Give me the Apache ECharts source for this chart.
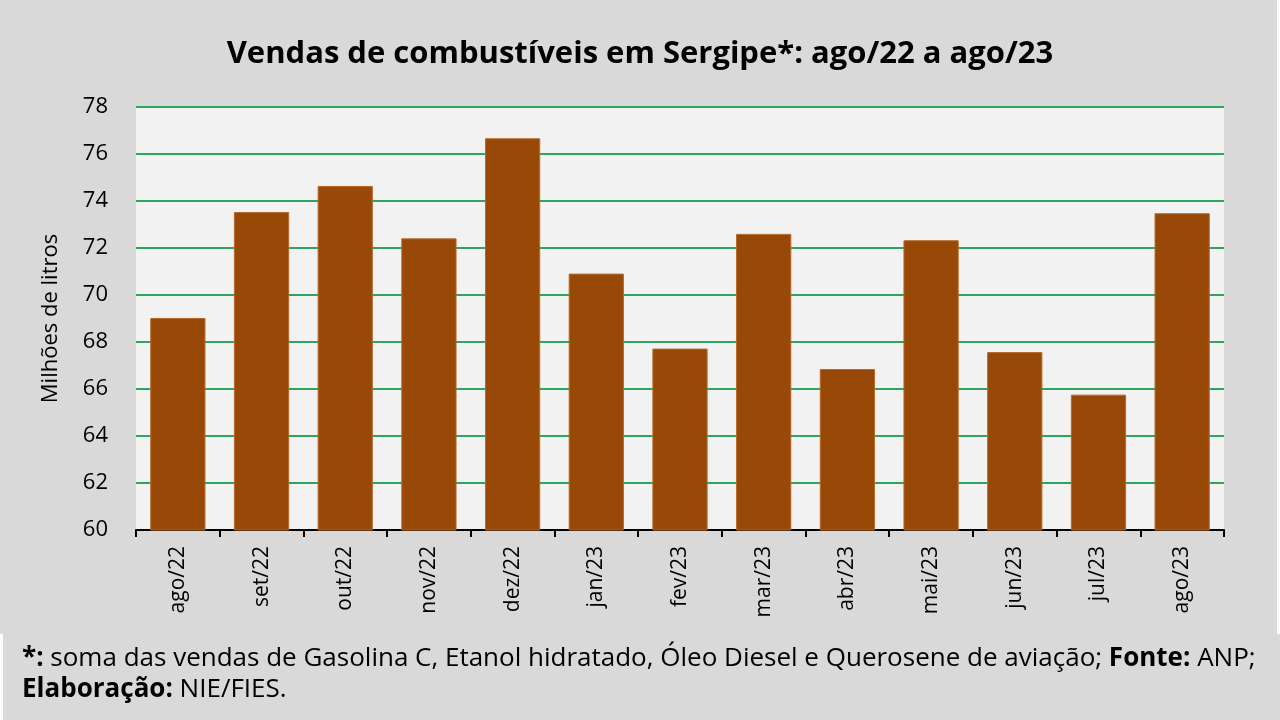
<!DOCTYPE html>
<html><head><meta charset="utf-8">
<script src="https://cdn.jsdelivr.net/npm/echarts@6/dist/echarts.min.js"></script>
<style>html,body{margin:0;padding:0;background:#d9d9d9}#c{width:1280px;height:720px}</style>
</head><body><div id="c"></div>
<script>
const categories = ['ago/22','set/22','out/22','nov/22','dez/22','jan/23','fev/23','mar/23','abr/23','mai/23','jun/23','jul/23','ago/23'];
const vendas = [69.02, 73.53, 74.64, 72.41, 76.67, 70.91, 67.72, 72.60, 66.85, 72.33, 67.57, 65.76, 73.48];
const yTicks = { min: 60, max: 78, interval: 2 };
const titleText = 'Vendas de combustíveis em Sergipe*: ago/22 a ago/23';
const yName = 'Milhões de litros';

const FONT = '"Open Sans", sans-serif';
const chart = echarts.init(document.getElementById('c'));
chart.setOption({
  backgroundColor: '#d9d9d9',
  animation: false,
  title: {
    text: titleText, left: 'center', top: 34,
    textStyle: { fontFamily: FONT, fontWeight: 'bold', fontSize: 31, color: '#000' }
  },
  grid: { left: 136, right: 56, top: 107, bottom: 190, show: true, backgroundColor: '#f2f2f2', borderWidth: 0 },
  xAxis: {
    type: 'category', data: categories,
    axisLine: { lineStyle: { color: '#000', width: 2 } },
    axisTick: { show: true, length: 7, lineStyle: { color: '#000', width: 2 } },
    axisLabel: { rotate: 90, margin: 16, color: '#000', fontFamily: FONT, fontSize: 21 }
  },
  yAxis: {
    type: 'value', min: yTicks.min, max: yTicks.max, interval: yTicks.interval,
    name: yName, nameLocation: 'middle', nameGap: 74, nameRotate: 90,
    nameTextStyle: { fontFamily: FONT, fontSize: 22, color: '#000' },
    axisLine: { show: false }, axisTick: { show: false },
    axisLabel: { color: '#000', fontFamily: FONT, fontSize: 22, margin: 28 },
    splitLine: { lineStyle: { color: '#2ea55c', width: 2 } }
  },
  series: [{
    type: 'bar', data: vendas, barCategoryGap: '34%',
    itemStyle: { color: '#984807', borderColor: '#b5692a', borderWidth: 1 }
  }],
  graphic: [
    { type: 'rect', shape: { x: 0, y: 634, width: 3, height: 86 }, style: { fill: '#ffffff' } },
    { type: 'rect', shape: { x: 1277, y: 0, width: 3, height: 634 }, style: { fill: '#ffffff' } },
    { type: 'text', left: 22, top: 646, style: {
        text: '{b|*:} soma das vendas de Gasolina C, Etanol hidratado, Óleo Diesel e Querosene de aviação; {b|Fonte:} ANP;',
        font: '26px ' + FONT, fill: '#000',
        rich: { b: { fontWeight: 'bold', fontFamily: FONT, fontSize: 26, fill: '#000' } }
    } },
    { type: 'text', left: 22, top: 677, style: {
        text: '{b|Elaboração:} NIE/FIES.',
        font: '26px ' + FONT, fill: '#000',
        rich: { b: { fontWeight: 'bold', fontFamily: FONT, fontSize: 26, fill: '#000' } }
    } }
  ]
});
</script></body></html>
